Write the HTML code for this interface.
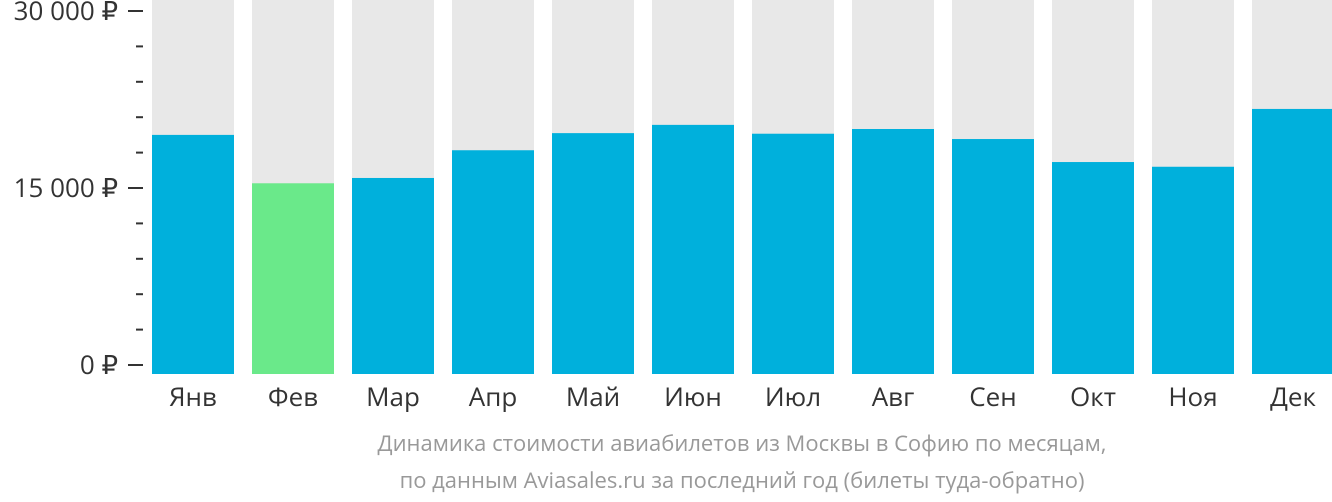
<!DOCTYPE html>
<html><head><meta charset="utf-8">
<style>
html,body{margin:0;padding:0;background:#fff;}
svg{display:block;font-family:"Open Sans","Liberation Sans","DejaVu Sans",sans-serif;}
</style></head>
<body>
<svg id="chart" width="1332" height="502" viewBox="0 0 1332 502" xmlns="http://www.w3.org/2000/svg">
<g id="yaxis"></g>
<g id="bars"></g>
<g id="xlabels"></g>
<text x="742" y="451" text-anchor="middle" font-size="22" fill="#999">Динамика стоимости авиабилетов из Москвы в Софию по месяцам,</text>
<text x="742" y="488" text-anchor="middle" font-size="22" fill="#999">по данным Aviasales.ru за последний год (билеты туда-обратно)</text>
</svg>
<script>
const categories = ["Янв","Фев","Мар","Апр","Май","Июн","Июл","Авг","Сен","Окт","Ноя","Дек"];
const values = [19500,15400,15850,18200,19650,20350,19600,20000,19150,17200,16800,21700];
const tickValues = [0,15000,30000];
const tickLabels = ["0 ₽","15 000 ₽","30 000 ₽"];
const minorCount = 10;
const highlightIndex = 1;

const NS = "http://www.w3.org/2000/svg";
const y0 = 365, pxPer = 177/15000, barBottom = 374;
function yScale(v){ return y0 - v*pxPer; }
function xScale(i){ return 152 + i*100; }
const barW = 82;
function mk(tag, attrs, parent){
  const e = document.createElementNS(NS, tag);
  for (const k in attrs) e.setAttribute(k, attrs[k]);
  parent.appendChild(e); return e;
}
const yax = document.getElementById('yaxis');
const maxV = tickValues[tickValues.length-1];
for (let j=0;j<=minorCount;j++){
  const v = maxV*j/minorCount;
  const major = tickValues.indexOf(v) >= 0;
  const l = mk('line',{x1: major?128:136, x2:143, y1:yScale(v), y2:yScale(v), stroke:'#333','stroke-width':2}, yax);
  
  
}
tickValues.forEach((v,i)=>{
  const t = mk('text',{x:118, y:yScale(v)+9, 'text-anchor':'end','font-size':26, fill:'#333'}, yax);
  t.textContent = tickLabels[i];
  
  
});
const bars = document.getElementById('bars');
const xl = document.getElementById('xlabels');
categories.forEach((c,i)=>{
  const x = xScale(i);
  const bg = mk('rect',{x:x, y:0, width:barW, height:barBottom, fill:'#e8e8e8'}, bars);
  
  
  const top = yScale(values[i]);
  const r = mk('rect',{x:x, y:top, width:barW, height:barBottom-top, fill: i===highlightIndex ? '#6ae98a' : '#00b0dc'}, bars);
  
  
  const t = mk('text',{x:x+barW/2, y:406, 'text-anchor':'middle','font-size':26, fill:'#333'}, xl);
  t.textContent = c;
  
  
});
</script>
</body></html>
